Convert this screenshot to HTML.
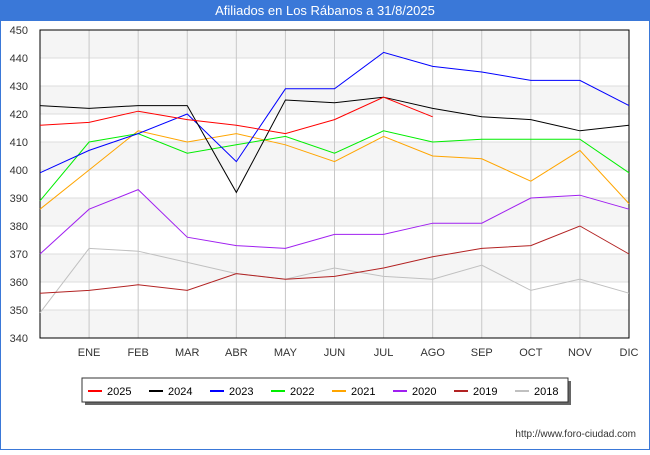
<!DOCTYPE html>
<html><head><meta charset="utf-8"><style>
body{margin:0;background:#fff;font-family:"Liberation Sans",sans-serif}
</style></head><body>
<svg id="c" width="650" height="450" xmlns="http://www.w3.org/2000/svg">
<rect x="0" y="0" width="650" height="450" fill="#fff"/>
<rect x="0" y="0" width="650" height="21" fill="#3a78d8"/>
<text x="325" y="15" text-anchor="middle" fill="#fff" font-size="13">Afiliados en Los Rábanos a 31/8/2025</text>
<g id="grid"></g><g id="axes"></g><g id="series"></g>
<text x="636" y="437" text-anchor="end" font-size="10" fill="#333">http://www.foro-ciudad.com</text>
<g id="legend"></g>
<rect x="0.5" y="0.5" width="649" height="449" fill="none" stroke="#3a78d8"/>
</svg>
<script>
const months=["","ENE","FEB","MAR","ABR","MAY","JUN","JUL","AGO","SEP","OCT","NOV","DIC"];
const yTicks=[340,350,360,370,380,390,400,410,420,430,440,450];
const years=["2025","2024","2023","2022","2021","2020","2019","2018"];
const colors=["#ff0000","#000000","#0000ff","#00ee00","#ffa500","#a020f0","#b22222","#c0c0c0"];
const s2025=[416,417,421,418,416,413,418,426,419];
const s2024=[423,422,423,423,392,425,424,426,422,419,418,414,416];
const s2023=[399,407,413,420,403,429,429,442,437,435,432,432,423];
const s2022=[389,410,413,406,409,412,406,414,410,411,411,411,399];
const s2021=[386,400,414,410,413,409,403,412,405,404,396,407,388];
const s2020=[370,386,393,376,373,372,377,377,381,381,390,391,386];
const s2019=[356,357,359,357,363,361,362,365,369,372,373,380,370];
const s2018=[349,372,371,367,363,361,365,362,361,366,357,361,356];
const data=[s2025,s2024,s2023,s2022,s2021,s2020,s2019,s2018];
const NS="http://www.w3.org/2000/svg";
const X0=40,X1=629,Y0=338,Y1=30,ymin=340,ymax=450;
const xs=i=>X0+(X1-X0)*i/12;
const ys=v=>Y0-(v-ymin)/(ymax-ymin)*(Y0-Y1);
function mk(t,a,p){const e=document.createElementNS(NS,t);for(const k in a)e.setAttribute(k,a[k]);p.appendChild(e);return e;}
const grid=document.getElementById('grid'),axes=document.getElementById('axes'),ser=document.getElementById('series'),leg=document.getElementById('legend');
for(let i=0;i<yTicks.length-1;i++){
 if(i%2==0){const r=mk('rect',{x:X0,y:ys(yTicks[i+1]),width:X1-X0,height:ys(yTicks[i])-ys(yTicks[i+1]),fill:'#f5f5f5'},grid);
 
 }
}
yTicks.forEach(v=>{
 const l=mk('line',{x1:X0,x2:X1,y1:ys(v),y2:ys(v),stroke:'#ddd','stroke-width':1},grid);
 
 
 const t=mk('text',{x:X0-12,y:ys(v)+4,'text-anchor':'end','font-size':11,fill:'#333'},axes);t.textContent=v;
 
 
});
months.forEach((m,i)=>{
 if(i>0){const l=mk('line',{x1:xs(i),x2:xs(i),y1:Y1,y2:Y0,stroke:'#c8c8c8'},grid);
 
 }
 const t=mk('text',{x:xs(i),y:356,'text-anchor':'middle','font-size':11,fill:'#333'},axes);t.textContent=m;
 
 
});
const ax=mk('rect',{x:X0,y:Y1,width:X1-X0,height:Y0-Y1,fill:'none',stroke:'#000'},axes);


for(let k=data.length-1;k>=0;k--){
 const p=mk('polyline',{points:data[k].map((v,i)=>xs(i)+','+ys(v)).join(' '),fill:'none',stroke:colors[k],'stroke-width':1},ser);
 
 
}
mk('rect',{x:85,y:381,width:486,height:24,fill:'#666'},leg);
const lb=mk('rect',{x:82,y:378,width:486,height:24,fill:'#fff',stroke:'#333'},leg);


years.forEach((y,k)=>{
 const gx=88+k*61;
 const g=mk('g',{},leg);
 
 
 mk('line',{x1:gx,x2:gx+14,y1:391,y2:391,stroke:colors[k],'stroke-width':2},g);
 const t=mk('text',{x:gx+19,y:395,'font-size':11,fill:'#000'},g);t.textContent=y;
});
</script>
</body></html>
